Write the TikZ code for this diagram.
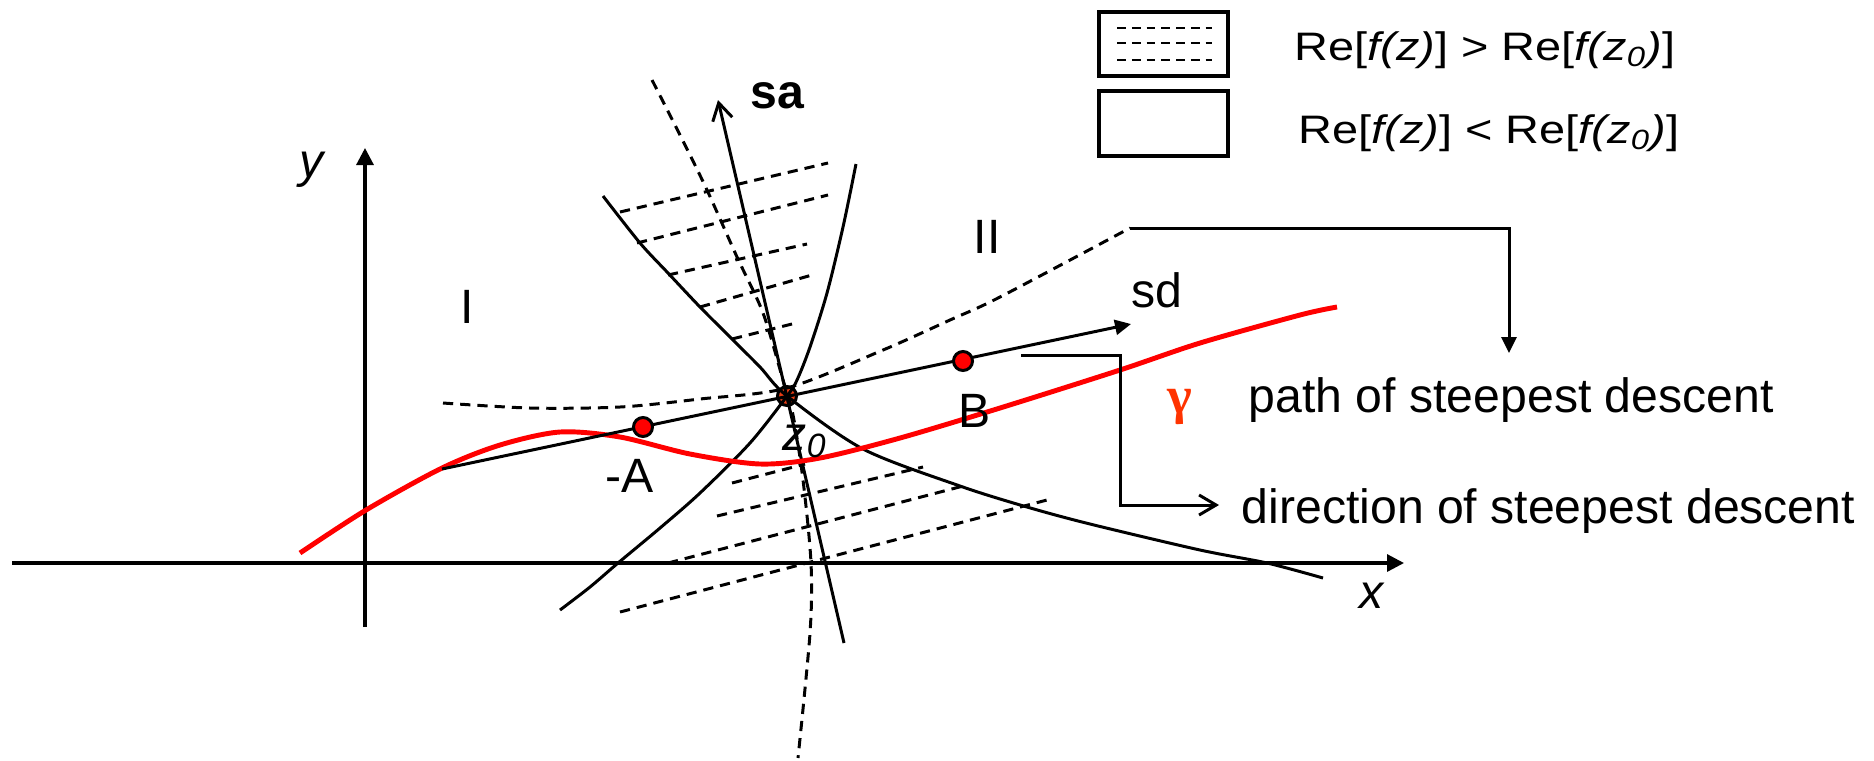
\documentclass[tikz,border=0pt]{standalone}
\usepackage{fontspec}
\setmainfont{Liberation Sans}
\newfontfamily\legendfont[FakeStretch=1.18]{Liberation Sans}
\newfontfamily\greekfont{Liberation Serif}
\usetikzlibrary{arrows.meta}

\definecolor{gammared}{RGB}{255,51,0}
\definecolor{saddlered}{RGB}{230,60,20}

\begin{document}
\begin{tikzpicture}[
    x=0.01cm, y=-0.01cm,
    curve/.style={line width=0.85pt},
    boundary/.style={line width=0.85pt, dash pattern=on 2.9pt off 2pt},
    hatch/.style={line width=0.85pt, dash pattern=on 2.9pt off 2pt},
    legend-hatch/.style={line width=0.8pt, dash pattern=on 2.5pt off 1.7pt},
    axis/.style={line width=0.9pt, -{Triangle[length=0.17cm, width=0.17cm]}},
    arrow/.style={line width=0.85pt, -{Triangle[length=0.16cm, width=0.15cm]}},
    open-arrow/.style={line width=0.85pt, -{Straight Barb[length=0.17cm, width=0.2cm]}},
    gamma-path/.style={red, line width=1.4pt},
    dot/.style={circle, draw, line width=0.85pt, fill=red, minimum size=0.19cm, inner sep=0pt},
    txt/.style={font=\fontsize{13.7}{16}\selectfont, inner sep=0pt},
    legend-box/.style={draw, line width=1pt},
    legend-text/.style={font=\legendfont\fontsize{11.3}{13}\selectfont, inner sep=0pt, anchor=base west}
]
\useasboundingbox (0,0) rectangle (1874,760);

% --- Axes ---
\coordinate (xstart) at (12,563);
\coordinate (xend) at (1404,563);
\coordinate (ystart) at (365,627);
\coordinate (yend) at (365,148);
\draw[axis] (xstart) -- (xend);
\draw[axis] (ystart) -- (yend);
\node[txt, anchor=base] (xlab) at (1372,608) {\textit{x}};
\node[txt, anchor=base] (ylab) at (313,177) {\textit{y}};

% --- Hatched regions ---
\foreach \xa/\ya/\xb/\yb in {620/212/828/163, 637/243/828/195, 668/275/807/244,
                              700/307/812/275, 732/339/796/323,
                              732/483/805/464, 717/516/923/467, 668/563/967/485,
                              620/612/1047/500} {
    \draw[hatch] (\xa,\ya) -- (\xb,\yb);
}

% --- Saddle point ---
\node[dot, fill=saddlered] (ptz) at (787,396) {};

% --- Boundary curves ---
\draw[boundary] plot[smooth] coordinates {(443,403) (530,408) (620,407) (700,399)
    (787,388) (883,350) (950,320) (1000,297) (1130,228)};
\draw[boundary] plot[smooth] coordinates {(652,80) (680,135) (707,190) (737,257)
    (763,313) (783,380) (793,415) (803,480) (811,563) (810,633) (798,758)};

% --- Level curves through z0 ---
\draw[curve] plot[smooth] coordinates {(603,196) (640,243) (668,273) (700,307)
    (732,339) (760,367) (787,396) (863,449) (960,486) (1027,507) (1090,524)
    (1200,550) (1267,563) (1323,578)};
\draw[curve] plot[smooth] coordinates {(856,164) (843,227) (827,293) (810,347)
    (797,380) (787,396) (750,443) (700,493) (660,528) (618,563) (590,587) (560,610)};

% --- Steepest ascent ---
\coordinate (sabottom) at (844,643);
\coordinate (satip) at (718,100);
\draw[open-arrow] (sabottom) -- (satip);
\node[txt, anchor=base] (salab) at (777,108) {\bfseries sa};

% --- Path gamma ---
\draw[gamma-path] plot[smooth] coordinates {(300,553) (366,510) (442,468) (500,445)
    (560,432) (620,437) (690,454) (760,464) (820,458) (900,438) (1000,408)
    (1120,370) (1200,343) (1300,315) (1337,307)};

% --- Steepest descent ---
\coordinate (sdstart) at (442,469);
\coordinate (sdtip) at (1131,324);
\draw[arrow] (sdstart) -- (sdtip);
\node[txt, anchor=base] (sdlab) at (1157,307) {sd};
\node[dot] (ptA) at (643,427) {};
\node[dot] (ptB) at (963,361) {};

% --- Labels ---
\node[txt, anchor=base] (regI) at (467,323) {I};
\node[txt, anchor=base] (regII) at (987,253) {II};
\node[txt, anchor=base] (Alab) at (630,492) {-A};
\node[txt, anchor=base] (Blab) at (975,427) {B};
\node[txt, anchor=base west] (z0lab) at (782,450) {\textit{z}\textsubscript{\textit{0}}};

% --- Callouts ---
\node[txt, text=gammared, font=\greekfont\bfseries\fontsize{15}{17}\selectfont] (gamma) at (1180,407) {γ};
\node[txt, anchor=base west] (pathlab) at (1248,412) {path of steepest descent};
\node[txt, anchor=base west] (dirlab) at (1241,523) {direction of steepest descent};
\coordinate (pathstart) at (1130,228);
\coordinate (pathtip) at (1509,353);
\draw[arrow] (pathstart) -| (pathtip);
\coordinate (dirstart) at (1021,355);
\coordinate (dirbend) at (1120,355);
\coordinate (dirtip) at (1219,505);
\draw[open-arrow] (dirstart) -- (dirbend) |- (dirtip);

% --- Legend ---
\draw[legend-box] (1099,12) rectangle (1228,76);
\draw[legend-box] (1099,91) rectangle (1228,156);
\foreach \yy in {28,43,60} {
    \draw[legend-hatch] (1117,\yy) -- (1212,\yy);
}
\node[legend-text] (gtlab) at (1294,60) {Re[\textit{f(z)}] > Re[\textit{f(z\textsubscript{0})}]};
\node[legend-text] (ltlab) at (1298,143) {Re[\textit{f(z)}] < Re[\textit{f(z\textsubscript{0})}]};

\end{tikzpicture}
\end{document}
